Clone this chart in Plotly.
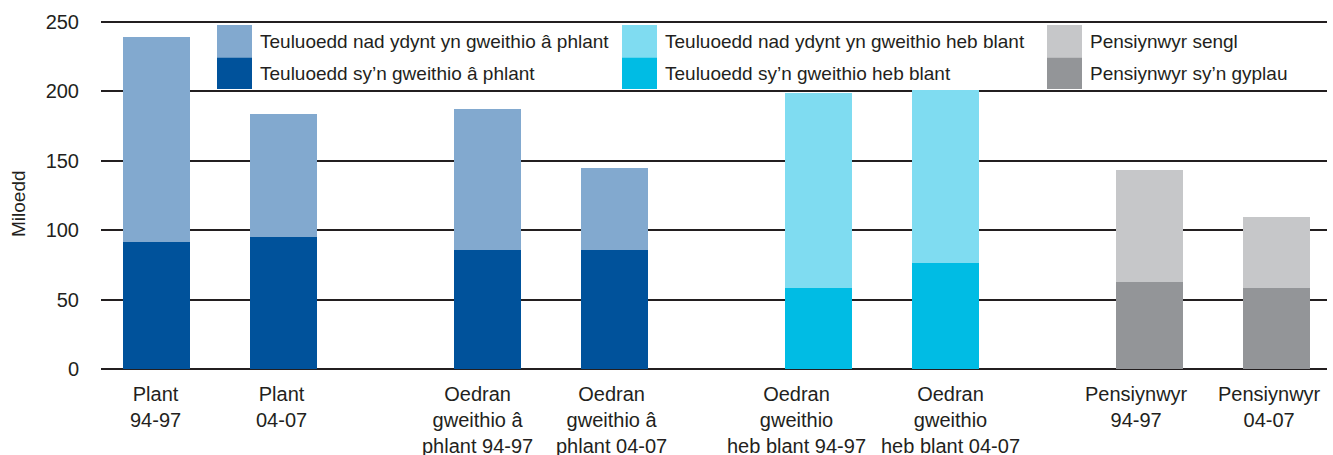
import plotly.graph_objects as go

# ---- data ----
categories = [
    "Plant<br>94-97", "Plant<br>04-07",
    "Oedran<br>gweithio â<br>phlant 94-97", "Oedran<br>gweithio â<br>phlant 04-07",
    "Oedran<br>gweithio<br>heb blant 94-97", "Oedran<br>gweithio<br>heb blant 04-07",
    "Pensiynwyr<br>94-97", "Pensiynwyr<br>04-07",
]
groups = [0, 0, 1, 1, 2, 2, 3, 3]
lower_values = [91.4, 95.0, 85.7, 85.7, 58.3, 76.5, 62.6, 58.5]
upper_values = [147.6, 88.6, 101.5, 59.0, 140.4, 124.1, 80.7, 50.9]

lower_names = ["Teuluoedd sy’n gweithio â phlant", "Teuluoedd sy’n gweithio heb blant",
               "Pensiynwyr sy’n gyplau"]
upper_names = ["Teuluoedd nad ydynt yn gweithio â phlant", "Teuluoedd nad ydynt yn gweithio heb blant",
               "Pensiynwyr sengl"]
lower_colors = ["#00529b", "#00bce4", "#939598"]
upper_colors = ["#82a9cf", "#7fdcf1", "#c6c7c9"]
series_of_group = [0, 0, 1, 2]  # which series each category group uses

y_ticks = [0, 50, 100, 150, 200, 250]

# ---- layout helpers ----
GROUP_STEP = 2.6
positions = []
seen = {}
for g in groups:
    i = seen.get(g, 0)
    positions.append(g * GROUP_STEP + i)
    seen[g] = i + 1
# horizontal nudges (px) of category labels, as typeset in the original
label_nudge = [-1, -2, -10, -3, -22, 5, -13, -7]

TXT = "#231f20"
FONT = "Liberation Sans, Arial, Helvetica, sans-serif"

fig = go.Figure()
for s in range(3):
    idx = [k for k, g in enumerate(groups) if series_of_group[g] == s]
    xs = [positions[k] for k in idx]
    fig.add_trace(go.Bar(x=xs, y=[lower_values[k] for k in idx], name=lower_names[s],
                         marker=dict(color=lower_colors[s], line=dict(width=0)),
                         width=0.526, showlegend=False))
    fig.add_trace(go.Bar(x=xs, y=[upper_values[k] for k in idx], name=upper_names[s],
                         marker=dict(color=upper_colors[s], line=dict(width=0)),
                         width=0.526, showlegend=False))

# plot area in pixels
L, R, T, B = 101, 6, 20, 86
W, H = 1333, 455
pw, ph = W - L - R, H - T - B


def px2paper(x, y):
    return (x - L) / pw, (H - B - y) / ph


# custom legend: three columns, two rows each
col_x = [217, 622, 1047]
sw_w = 35
row_top, row_mid, row_bot = 25, 57.5, 89
for s in range(3):
    x0 = col_x[s]
    for (yt, yb, col, name) in [(row_top, row_mid, upper_colors[s], upper_names[s]),
                                (row_mid, row_bot, lower_colors[s], lower_names[s])]:
        a0, b0 = px2paper(x0, yb)
        a1, b1 = px2paper(x0 + sw_w, yt)
        fig.add_shape(type="rect", xref="paper", yref="paper", x0=a0, x1=a1, y0=b0, y1=b1,
                      fillcolor=col, line=dict(width=0), layer="above")
        tx, ty = px2paper(x0 + sw_w + 6, (yt + yb) / 2)
        fig.add_annotation(xref="paper", yref="paper", x=tx, y=ty, text=name, showarrow=False,
                           xanchor="left", yanchor="middle",
                           font=dict(size=19, color=TXT, family=FONT))

# category labels
for k, lab in enumerate(categories):
    fig.add_annotation(xref="x", yref="paper", x=positions[k], y=0, text=lab, showarrow=False,
                       xanchor="center", yanchor="top", align="center",
                       xshift=label_nudge[k], yshift=-12,
                       font=dict(size=20, color=TXT, family=FONT))

# y-axis title (placed slightly below centre as in the original)
yt_x, yt_y = px2paper(18, 203)
fig.add_annotation(xref="paper", yref="paper", x=yt_x, y=yt_y, text="Miloedd", textangle=-90,
                   showarrow=False, xanchor="center", yanchor="middle",
                   font=dict(size=19, color=TXT, family=FONT))

fig.update_layout(
    width=W, height=H,
    margin=dict(l=L, r=R, t=T, b=B, autoexpand=False),
    barmode="stack",
    bargap=0,
    plot_bgcolor="white", paper_bgcolor="white",
    font=dict(family=FONT, color=TXT, size=20),
    showlegend=False,
    xaxis=dict(
        range=[-0.434, 9.197],
        tickmode="array", tickvals=positions, ticktext=categories,
        showticklabels=False, automargin=False,
        showgrid=False, zeroline=False, showline=False, ticks="",
        fixedrange=True,
    ),
    yaxis=dict(
        range=[0, 251.2], tickmode="array", tickvals=y_ticks,
        automargin=False,
        showgrid=True, gridcolor=TXT, gridwidth=1.5,
        zeroline=True, zerolinecolor=TXT, zerolinewidth=2,
        showline=False, ticks="",
        tickfont=dict(size=20, color=TXT), ticklabelstandoff=21,
        fixedrange=True,
    ),
)

fig.write_html("out.html", config={"displayModeBar": False},
               post_script="document.body.style.margin='0';")
